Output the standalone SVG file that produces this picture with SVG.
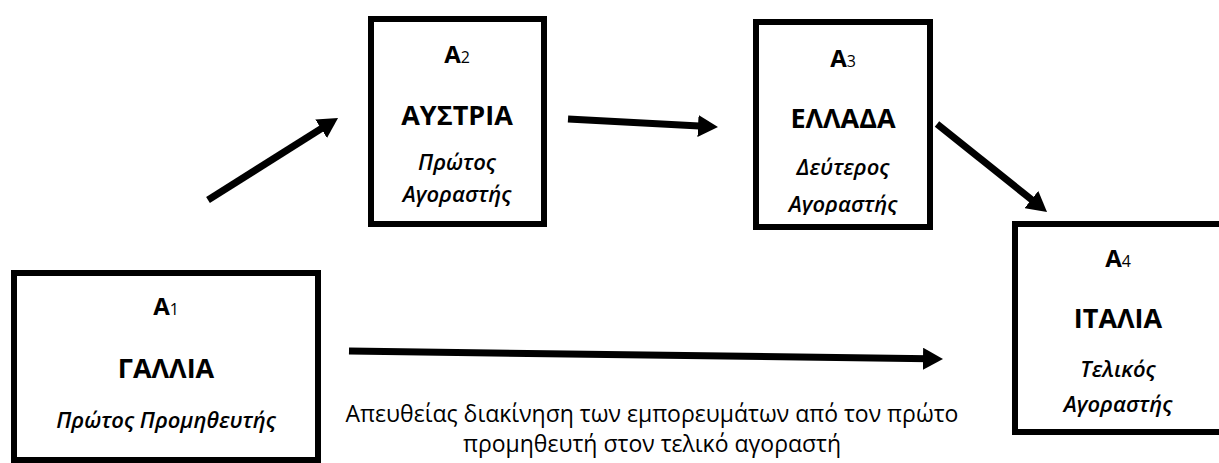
<svg xmlns="http://www.w3.org/2000/svg" width="1219" height="463" viewBox="0 0 1219 463">
<style>
text{font-family:"Open Sans","Noto Sans",sans-serif;fill:#000;text-anchor:middle}
.lbl{font-size:24px;font-weight:700}
.sub{font-size:16px;font-weight:400}
.name{font-size:27px;font-weight:700}
.role{font-size:22px;font-style:italic;font-weight:600}
.note{font-size:23px}
.box{fill:none;stroke:#000;stroke-width:6}
.arr{stroke:#000;stroke-width:7;fill:none;marker-end:url(#ah)}
</style>
<defs>
<marker id="ah" viewBox="0 0 20 22" refX="6" refY="11" markerWidth="20" markerHeight="22" markerUnits="userSpaceOnUse" orient="auto">
<path d="M0,0 L20,11 L0,22 z" fill="#000"/>
</marker>
<clipPath id="clipA3">
<rect x="756" y="22" width="174" height="193"/>
</clipPath>
</defs>
<rect width="1219" height="463" fill="#fff"/>
<g id="node-a1">
<text class="lbl" x="166" y="315">A<tspan class="sub">1</tspan></text>
<text class="name" x="166" y="378">ΓΑΛΛΙΑ</text>
<text class="role" x="166" y="428">Πρώτος Προμηθευτής</text>
<rect class="box" x="14" y="273" width="304" height="187"/>
</g>
<g id="node-a2">
<text class="lbl" x="457" y="63">A<tspan class="sub">2</tspan></text>
<text class="name" x="457" y="125">ΑΥΣΤΡΙΑ</text>
<text class="role" x="457" y="170">Πρώτος</text>
<text class="role" x="457" y="202">Αγοραστής</text>
<rect class="box" x="371" y="19" width="173" height="205"/>
</g>
<g id="node-a3">
<text class="lbl" x="843" y="67">A<tspan class="sub">3</tspan></text>
<text class="name" x="843" y="128">ΕΛΛΑΔΑ</text>
<text class="role" x="843" y="175">Δεύτερος</text>
<text class="role" x="843" y="212" clip-path="url(#clipA3)">Αγοραστής</text>
<rect class="box" x="756" y="22" width="174" height="205"/>
</g>
<g id="node-a4">
<text class="lbl" x="1118" y="267">A<tspan class="sub">4</tspan></text>
<text class="name" x="1118" y="328">ΙΤΑΛΙΑ</text>
<text class="role" x="1118" y="377">Τελικός</text>
<text class="role" x="1118" y="412">Αγοραστής</text>
<rect class="box" x="1015" y="224" width="212" height="208"/>
</g>
<g id="connectors">
<line class="arr" x1="208" y1="200" x2="326.2" y2="125.5"/>
<line class="arr" x1="568" y1="119" x2="704" y2="126.3"/>
<line class="arr" x1="937" y1="124" x2="1036.1" y2="203.3"/>
<line class="arr" x1="349" y1="351" x2="929" y2="358.8"/>
</g>
<g id="note">
<text class="note" x="652" y="422">Απευθείας διακίνηση των εμπορευμάτων από τον πρώτο</text>
<text class="note" x="652" y="452">προμηθευτή στον τελικό αγοραστή</text>
</g>
</svg>
